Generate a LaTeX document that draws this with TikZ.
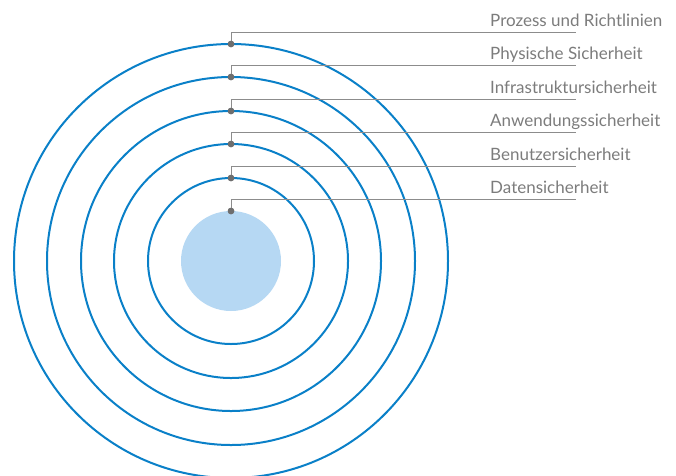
\documentclass[tikz,border=0pt]{standalone}
\usepackage{fontspec}
\setmainfont{Lato}
\usetikzlibrary{positioning}
\definecolor{ringblue}{HTML}{0A80C8}
\definecolor{coreblue}{HTML}{B6D8F3}
\definecolor{pingray}{HTML}{6E6E6E}
\definecolor{linegray}{HTML}{8C8C8C}
\definecolor{textgray}{HTML}{7C7C7C}
\def\rings{217, 184, 150, 117, 83}
\def\layers{{217/prozess/Prozess und Richtlinien}, {184/physisch/Physische Sicherheit}, {150/infra/Infrastruktursicherheit}, {117/anwendung/Anwendungssicherheit}, {83/benutzer/Benutzersicherheit}, {50/daten/Datensicherheit}}
\tikzstyle{ring}=[draw=ringblue, line width=2pt]
\tikzstyle{core}=[fill=coreblue]
\tikzstyle{pin}=[circle,fill=pingray,minimum size=6.5pt,inner sep=0pt]
\tikzstyle{leader}=[draw=linegray, line width=1pt]
\tikzstyle{caption}=[anchor=base west,inner sep=0pt,text=textgray,font=\fontsize{17}{20}\selectfont]

\begin{document}
\begin{tikzpicture}[x=1pt,y=1pt]
  \useasboundingbox (0,0) rectangle (676,-475);
  \coordinate (centre) at (231,-261);

  % The filled core and the rings round it
  \fill[core] (centre) circle (50);
  \foreach \r in \rings
    \path[ring] (centre) circle (\r);

  % A pin on top of each layer, with its leader and caption
  \foreach \r/\name/\text in \layers {
    \node[pin] (\name) at (231,-261+\r) {};
    \coordinate (\name-bend) at (231,-261+\r+11.5);
    \coordinate (\name-end) at (576,-261+\r+11.5);
    \node[caption] (\name-label) at (490,-261+\r+17.5) {\text};
  }

  \foreach \r/\name/\text in \layers
    \path[leader] (\name) -- (\name-bend) -- (\name-end);

  % Pins again so they sit over the leaders
  \foreach \r/\name/\text in \layers
    \node[pin] at (\name) {};
\end{tikzpicture}
\end{document}
